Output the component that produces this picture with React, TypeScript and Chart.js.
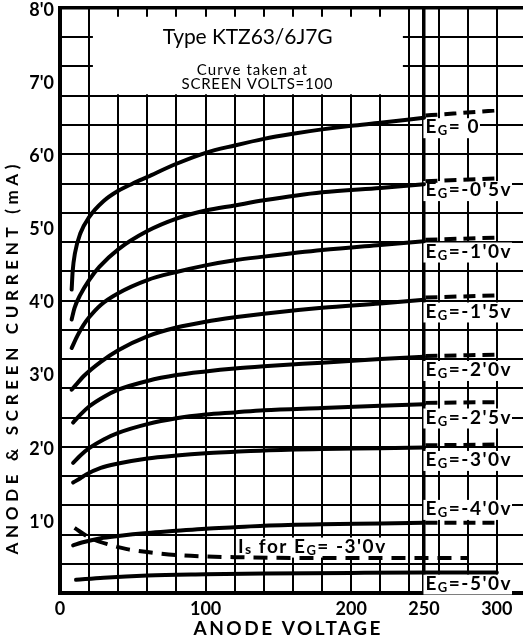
import React, { useEffect, useRef } from 'react';
import { Chart, registerables } from 'chart.js';

Chart.register(...registerables);

// ---- axis ticks ----
const X_TICK_LABELS = [0, 100, 200, 250, 300];
const Y_TICK_LABELS = [1, 2, 3, 4, 5, 6, 7, 8];
const X_GRID_STEP = 20;
const Y_GRID_STEP = 0.4;

// ---- anode current curves (anode voltage V, current mA) ----
const V_EG0 = [8, 8.7, 10.3, 14, 20, 30, 40, 50, 60, 80, 100, 120, 140, 160, 180, 200, 220, 250];
const I_EG0 = [4.15, 4.4, 4.65, 4.92, 5.14, 5.36, 5.5, 5.6, 5.69, 5.87, 6.02, 6.12, 6.21, 6.28, 6.34, 6.39, 6.43, 6.5];

const V_EG05 = [8, 10, 14, 20, 27, 40, 60, 80, 100, 120, 140, 180, 220, 250];
const I_EG05 = [3.74, 3.9, 4.08, 4.28, 4.46, 4.7, 4.95, 5.12, 5.23, 5.3, 5.37, 5.48, 5.54, 5.59];

const V_EG10 = [8, 12, 16, 20, 28, 40, 60, 80, 100, 120, 140, 180, 220, 250];
const I_EG10 = [3.35, 3.52, 3.66, 3.77, 3.94, 4.1, 4.28, 4.39, 4.48, 4.55, 4.6, 4.69, 4.76, 4.81];

const V_EG15 = [8, 12, 16, 28, 40, 60, 80, 100, 120, 140, 180, 220, 250];
const I_EG15 = [2.78, 2.87, 2.96, 3.16, 3.32, 3.51, 3.63, 3.71, 3.77, 3.82, 3.9, 3.96, 4.01];

const V_EG20 = [9, 14, 20, 30, 40, 60, 80, 100, 120, 140, 180, 220, 250];
const I_EG20 = [2.33, 2.44, 2.55, 2.68, 2.78, 2.9, 2.98, 3.03, 3.07, 3.1, 3.15, 3.2, 3.23];

const V_EG25 = [9, 14, 20, 30, 40, 60, 80, 100, 120, 140, 180, 220, 250];
const I_EG25 = [1.78, 1.88, 1.98, 2.1, 2.19, 2.31, 2.39, 2.44, 2.47, 2.5, 2.53, 2.56, 2.58];

const V_EG30 = [9, 14, 18, 28, 40, 60, 80, 100, 120, 140, 180, 220, 250];
const I_EG30 = [1.51, 1.57, 1.62, 1.71, 1.77, 1.84, 1.88, 1.91, 1.93, 1.95, 1.97, 1.98, 1.99];

const V_EG40 = [9, 15, 28, 40, 60, 80, 100, 120, 140, 180, 220, 250];
const I_EG40 = [0.65, 0.69, 0.75, 0.78, 0.82, 0.85, 0.88, 0.9, 0.92, 0.94, 0.95, 0.96];

const V_EG50 = [11, 30, 60, 100, 140, 200, 250, 300];
const I_EG50 = [0.18, 0.21, 0.24, 0.255, 0.265, 0.275, 0.28, 0.28];

// ---- screen current for EG = -3.0 V ----
const V_IS30 = [10, 20, 34, 46, 60, 80, 100, 120, 160, 200, 240, 280];
const I_IS30 = [0.89, 0.76, 0.66, 0.6, 0.56, 0.52, 0.5, 0.49, 0.48, 0.48, 0.48, 0.48];

// ---- dashed extrapolations beyond 250 V ----
const V_EXT = [251, 300];
const I_EXT_EG0 = [6.53, 6.6];
const I_EXT_EG05 = [5.63, 5.67];
const I_EXT_EG10 = [4.83, 4.86];
const I_EXT_EG15 = [4.04, 4.07];
const I_EXT_EG20 = [3.24, 3.26];
const I_EXT_EG25 = [2.6, 2.61];
const I_EXT_EG30 = [2.02, 2.03];
const I_EXT_EG40 = [0.96, 0.96];

// ---- texts ----
const CURVE_LABELS = ["= 0", "=-0'5v", "=-1'0v", "=-1'5v", "=-2'0v", "=-2'5v", "=-3'0v", "=-4'0v", "=-5'0v"];
const LABEL_LEVELS = [6.37, 5.51, 4.67, 3.85, 3.05, 2.4, 1.82, 1.15, 0.13];
const LABEL_V = 251;
const TITLE_LINES = ['Type KTZ63/6J7G', 'Curve taken at', 'SCREEN VOLTS=100'];
const X_TITLE = 'ANODE VOLTAGE';
const Y_TITLE = 'ANODE & SCREEN CURRENT (mA)';

const FONT = "Lato, 'DejaVu Sans', sans-serif";

const pts = (xs: number[], ys: number[]) => xs.map((x, i) => ({ x, y: ys[i] }));
const isMult = (v: number, s: number) => Math.abs(v / s - Math.round(v / s)) < 1e-6;

function drawFit(ctx: any, text: string, left: number, cy: number, font: string, width: number) {
  ctx.font = font;
  ctx.letterSpacing = '0px';
  const w = ctx.measureText(text).width;
  const n = [...text].length;
  const sp = n > 1 ? (width - w) / (n - 1) : 0;
  ctx.letterSpacing = sp + 'px';
  ctx.textAlign = 'left';
  ctx.textBaseline = 'middle';
  ctx.fillText(text, left, cy);
  ctx.letterSpacing = '0px';
}

// draws a sequence of segments [text, size, dy]; returns total width
function drawSegs(ctx: any, segs: [string, number, number][], x: number, cy: number, sp: number, bg: boolean) {
  let total = 0;
  const widths: number[] = [];
  ctx.letterSpacing = sp + 'px';
  for (const [t, s] of segs) {
    ctx.font = `bold ${s}px ${FONT}`;
    const w = ctx.measureText(t).width;
    widths.push(w);
    total += w;
  }
  if (bg) {
    ctx.fillStyle = '#fff';
    ctx.fillRect(x - 2, cy - 9, total + 2, 20);
  }
  ctx.fillStyle = '#000';
  ctx.textAlign = 'left';
  ctx.textBaseline = 'middle';
  let cx = x;
  segs.forEach(([t, s, dy], i) => {
    ctx.font = `bold ${s}px ${FONT}`;
    ctx.fillText(t, cx, cy + dy);
    cx += widths[i];
  });
  ctx.letterSpacing = '0px';
  return total;
}

const overlay = {
  id: 'overlay',
  beforeDatasetsDraw(chart: any) {
    const { ctx, scales } = chart;
    const x = scales.x;
    const y = scales.y;
    ctx.save();
    // white title panel
    const l = x.getPixelForValue(22.6);
    const r = x.getPixelForValue(235.5);
    const t = y.getPixelForValue(7.88);
    const b = y.getPixelForValue(6.8) - 1.5;
    ctx.fillStyle = '#fff';
    ctx.fillRect(l, t, r - l, b - t);
    ctx.fillStyle = '#000';
    drawFit(ctx, TITLE_LINES[0], x.getPixelForValue(70.5), y.getPixelForValue(7.6), `21px ${FONT}`, 170);
    drawFit(ctx, TITLE_LINES[1], x.getPixelForValue(94), y.getPixelForValue(7.15), `15px ${FONT}`, 110);
    drawFit(ctx, TITLE_LINES[2], x.getPixelForValue(83.5), y.getPixelForValue(6.96), `15px ${FONT}`, 151);

    // curve labels
    CURVE_LABELS.forEach((lab, i) => {
      drawSegs(ctx, [['E', 19, 0], ['G', 13, 4], [lab, 19, 0]], x.getPixelForValue(LABEL_V), y.getPixelForValue(LABEL_LEVELS[i]), 1.5, true);
    });
    drawSegs(
      ctx,
      [['I', 19, 0], ['s', 14, 3], [' for E', 19, 0], ['G', 13, 4], ["= -3'0v", 19, 0]],
      x.getPixelForValue(122.2),
      y.getPixelForValue(0.635),
      1.5,
      true
    );
    ctx.restore();
  },
  afterDraw(chart: any) {
    const { ctx, chartArea } = chart;
    ctx.save();
    ctx.fillStyle = '#000';
    // x title
    drawFit(ctx, X_TITLE, 287 - 93.5, 629, `bold 19px ${FONT}`, 187);
    // y title
    ctx.translate(13, (chartArea.top + chartArea.bottom) / 2 + 59);
    ctx.rotate(-Math.PI / 2);
    drawFit(ctx, Y_TITLE, -195, 0, `bold 17px ${FONT}`, 390);
    ctx.restore();
  },
};

export default function App() {
  const ref = useRef<HTMLCanvasElement | null>(null);
  useEffect(() => {
    if (!ref.current) return;
    const xGrid: number[] = [];
    for (let v = 0; v <= 300 + 1e-9; v += X_GRID_STEP) xGrid.push(v);
    X_TICK_LABELS.forEach((v) => {
      if (!xGrid.includes(v)) xGrid.push(v);
    });
    xGrid.sort((a, b) => a - b);
    const yGrid: number[] = [];
    for (let k = 0; k * Y_GRID_STEP <= 8 + 1e-9; k++) yGrid.push(Math.round(k * Y_GRID_STEP * 10) / 10);
    Y_TICK_LABELS.forEach((v) => {
      if (!yGrid.some((g) => Math.abs(g - v) < 1e-6)) yGrid.push(v);
    });
    yGrid.sort((a, b) => a - b);

    const solid = (xs: number[], ys: number[]) => ({
      data: pts(xs, ys),
      borderColor: '#000',
      borderWidth: 4,
      borderCapStyle: 'round',
      pointRadius: 0,
      cubicInterpolationMode: 'monotone',
      fill: false,
    });
    const dashed = (xs: number[], ys: number[], dash: number[]) => ({
      data: pts(xs, ys),
      borderColor: '#000',
      borderWidth: 4,
      borderDash: dash,
      pointRadius: 0,
      cubicInterpolationMode: 'monotone',
      fill: false,
    });

    const chart = new Chart(ref.current, {
      type: 'line',
      data: {
        datasets: [
          solid(V_EG0, I_EG0),
          solid(V_EG05, I_EG05),
          solid(V_EG10, I_EG10),
          solid(V_EG15, I_EG15),
          solid(V_EG20, I_EG20),
          solid(V_EG25, I_EG25),
          solid(V_EG30, I_EG30),
          solid(V_EG40, I_EG40),
          solid(V_EG50, I_EG50),
          dashed(V_IS30, I_IS30, [14, 9]),
          dashed(V_EXT, I_EXT_EG0, [12, 7]),
          dashed(V_EXT, I_EXT_EG05, [12, 7]),
          dashed(V_EXT, I_EXT_EG10, [12, 7]),
          dashed(V_EXT, I_EXT_EG15, [12, 7]),
          dashed(V_EXT, I_EXT_EG20, [12, 7]),
          dashed(V_EXT, I_EXT_EG25, [12, 7]),
          dashed(V_EXT, I_EXT_EG30, [12, 7]),
          dashed(V_EXT, I_EXT_EG40, [12, 7]),
        ] as any,
      },
      options: {
        animation: false,
        responsive: false,
        events: [],
        layout: { padding: { top: 8, left: 0, right: 0, bottom: 0 } },
        plugins: { legend: { display: false }, tooltip: { enabled: false }, title: { display: false } },
        scales: {
          x: {
            type: 'linear',
            min: 0,
            max: 318,
            afterBuildTicks: (s: any) => {
              s.ticks = xGrid.map((v) => ({ value: v }));
            },
            afterFit: (s: any) => {
              s.height = 50;
              s.paddingLeft = 0;
              s.paddingRight = 0;
            },
            ticks: {
              autoSkip: false,
              maxRotation: 0,
              padding: 5,
              color: '#000',
              font: { family: FONT, weight: 'bold', size: 18 },
              callback: (v: any) => (X_TICK_LABELS.includes(Number(v)) ? String(v) : ''),
            },
            grid: {
              color: '#000',
              drawTicks: false,
              lineWidth: (c: any) => (c.tick && c.tick.value === 250 ? 3.5 : 2),
            },
            border: { color: '#000', width: 4 },
          },
          y: {
            type: 'linear',
            min: 0,
            max: 8,
            afterBuildTicks: (s: any) => {
              s.ticks = yGrid.map((v) => ({ value: v }));
            },
            afterFit: (s: any) => {
              s.width = 60;
              s.paddingTop = 0;
              s.paddingBottom = 0;
            },
            ticks: {
              autoSkip: false,
              padding: 6,
              labelOffset: 2,
              color: '#000',
              font: { family: FONT, weight: 'bold', size: 18 },
              callback: (v: any) => {
                const n = Number(v);
                return Y_TICK_LABELS.some((t) => Math.abs(t - n) < 1e-6) ? `${Math.round(n)}'0` : '';
              },
            },
            grid: {
              drawTicks: false,
              color: (c: any) => (c.tick && isMult(c.tick.value, Y_GRID_STEP) ? '#000' : 'rgba(0,0,0,0)'),
              lineWidth: (c: any) => (c.tick && Math.abs(c.tick.value - 8) < 1e-6 ? 3.5 : 2),
            },
            border: { color: '#000', width: 4 },
          },
        },
      } as any,
      plugins: [overlay],
    });
    return () => chart.destroy();
  }, []);

  return (
    <div style={{ position: 'absolute', left: 0, top: 0, width: 523, height: 643, background: '#fff' }}>
      <canvas ref={ref} width={523} height={643} style={{ display: 'block' }} />
    </div>
  );
}
